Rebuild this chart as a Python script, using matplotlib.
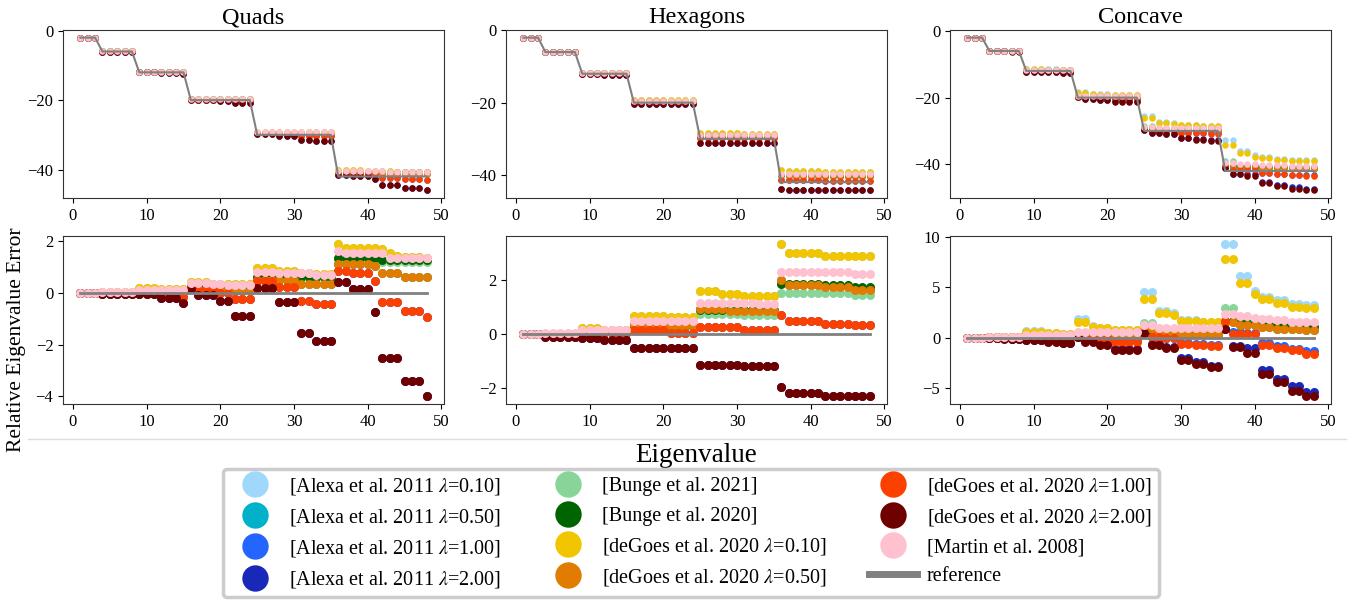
import numpy as np
import matplotlib
matplotlib.use("Agg")
import matplotlib.pyplot as plt
from matplotlib.lines import Line2D

plt.rcParams['font.family'] = ['Liberation Serif', 'DejaVu Serif']
plt.rcParams['mathtext.fontset'] = 'stix'

# eigenvalue index and the exact (reference) spectrum
eigen_index = np.arange(1, 49)
reference = [-2, -2, -2,
             -6, -6, -6, -6, -6,
             -12, -12, -12, -12, -12, -12, -12,
             -20, -20, -20, -20, -20, -20, -20, -20, -20,
             -30, -30, -30, -30, -30, -30, -30, -30, -30, -30, -30,
             -42, -42, -42, -42, -42, -42, -42, -42, -42, -42, -42, -42, -42]

# ---- Quads: error per eigenvalue ----
quads_degoes_010 = [0.00, 0.00, 0.00,
                    0.02, 0.02, 0.02, 0.02, 0.02,
                    0.17, 0.17, 0.17, 0.15, 0.15, 0.15, 0.15,
                    0.42, 0.42, 0.42, 0.36, 0.36, 0.36, 0.33, 0.33, 0.33,
                    0.95, 0.95, 0.95, 0.85, 0.85, 0.85, 0.78, 0.78, 0.72, 0.72, 0.72,
                    1.90, 1.75, 1.75, 1.75, 1.72, 1.72, 1.70, 1.55, 1.42, 1.40, 1.40, 1.38, 1.36]
quads_degoes_050 = [0.00, 0.00, 0.00,
                    0.01, 0.01, 0.01, 0.01, 0.01,
                    0.05, 0.05, 0.05, 0.05, 0.05, 0.05, 0.05,
                    0.15, 0.15, 0.15, 0.10, 0.10, 0.10, 0.08, 0.08, 0.08,
                    0.48, 0.48, 0.48, 0.48, 0.48, 0.48, 0.33, 0.33, 0.33, 0.33, 0.33,
                    1.12, 1.12, 1.12, 1.12, 1.12, 1.05, 0.75, 0.75, 0.75, 0.62, 0.62, 0.62, 0.62]
quads_degoes_100 = [0.00, 0.00, 0.00,
                    0.00, 0.00, 0.00, 0.00, 0.00,
                    0.00, 0.00, 0.00, -0.02, -0.02, -0.02, -0.15,
                    0.20, 0.10, 0.10, 0.10, 0.00, 0.00, -0.22, -0.22, -0.22,
                    0.45, 0.45, 0.45, 0.23, 0.23, 0.23, -0.32, -0.32, -0.42, -0.42, -0.42,
                    0.85, 0.85, 0.75, 0.75, 0.75, 0.45, -0.35, -0.35, -0.35, -0.72, -0.72, -0.72, -0.92]
quads_degoes_200 = [0.00, 0.00, 0.00,
                    -0.03, -0.03, -0.03, -0.03, -0.03,
                    -0.03, -0.03, -0.03, -0.19, -0.19, -0.19, -0.38,
                    0.13, -0.10, -0.10, -0.10, -0.32, -0.32, -0.88, -0.88, -0.88,
                    0.19, 0.19, 0.19, -0.35, -0.35, -0.35, -1.56, -1.56, -1.88, -1.88, -1.88,
                    0.40, 0.40, 0.13, 0.13, 0.13, -0.75, -2.53, -2.53, -2.53, -3.40, -3.40, -3.40, -4.00]
quads_bunge_2021 = [0.00, 0.00, 0.00,
                    0.01, 0.01, 0.01, 0.01, 0.01,
                    0.07, 0.07, 0.07, 0.07, 0.07, 0.07, 0.07,
                    0.22, 0.22, 0.22, 0.22, 0.22, 0.22, 0.22, 0.22, 0.22,
                    0.56, 0.56, 0.56, 0.56, 0.56, 0.56, 0.56, 0.56, 0.56, 0.56, 0.56,
                    1.30, 1.30, 1.30, 1.30, 1.30, 1.30, 1.20, 1.20, 1.20, 1.20, 1.20, 1.20, 1.20]
quads_bunge_2020 = [0.00, 0.00, 0.00,
                    0.01, 0.01, 0.01, 0.01, 0.01,
                    0.08, 0.08, 0.08, 0.08, 0.08, 0.08, 0.08,
                    0.25, 0.25, 0.25, 0.25, 0.25, 0.25, 0.25, 0.25, 0.25,
                    0.62, 0.62, 0.62, 0.62, 0.62, 0.62, 0.62, 0.62, 0.62, 0.62, 0.62,
                    1.36, 1.36, 1.36, 1.36, 1.36, 1.36, 1.25, 1.25, 1.25, 1.25, 1.25, 1.25, 1.25]
quads_martin = [0.00, 0.00, 0.00,
                0.02, 0.02, 0.02, 0.02, 0.02,
                0.12, 0.12, 0.12, 0.12, 0.12, 0.12, 0.12,
                0.38, 0.38, 0.38, 0.33, 0.33, 0.30, 0.30, 0.30, 0.30,
                0.80, 0.80, 0.80, 0.78, 0.78, 0.78, 0.75, 0.75, 0.68, 0.68, 0.68,
                1.60, 1.55, 1.55, 1.55, 1.55, 1.55, 1.55, 1.36, 1.36, 1.36, 1.36, 1.34, 1.34]
# on quads the Alexa operators coincide with deGoes (hidden underneath)
quads_alexa_010 = quads_degoes_010
quads_alexa_050 = quads_degoes_050
quads_alexa_100 = quads_degoes_100
quads_alexa_200 = quads_degoes_200

# ---- Hexagons ----
hex_degoes_010 = [0.00, 0.00, 0.00,
                  0.02, 0.02, 0.02, 0.02, 0.02,
                  0.24, 0.24, 0.24, 0.17, 0.17, 0.17, 0.17,
                  0.68, 0.68, 0.68, 0.68, 0.68, 0.62, 0.62, 0.62, 0.62,
                  1.57, 1.57, 1.57, 1.48, 1.48, 1.48, 1.41, 1.41, 1.41, 1.41, 1.41,
                  3.33, 2.97, 2.97, 2.97, 2.97, 2.97, 2.88, 2.88, 2.88, 2.88, 2.88, 2.88, 2.88]
hex_degoes_050 = [0.00, 0.00, 0.00,
                  0.01, 0.01, 0.01, 0.01, 0.01,
                  0.10, 0.10, 0.10, 0.10, 0.10, 0.10, 0.10,
                  0.32, 0.32, 0.32, 0.32, 0.32, 0.30, 0.30, 0.30, 0.30,
                  0.91, 0.91, 0.91, 0.91, 0.85, 0.85, 0.85, 0.85, 0.85, 0.85, 0.85,
                  2.00, 1.82, 1.82, 1.82, 1.82, 1.82, 1.73, 1.73, 1.73, 1.73, 1.64, 1.64, 1.64]
hex_degoes_100 = [0.00, 0.00, 0.00,
                  0.00, 0.00, 0.00, 0.00, 0.00,
                  0.03, 0.03, 0.03, 0.03, 0.03, 0.03, 0.03,
                  0.14, 0.14, 0.14, 0.14, 0.14, 0.05, 0.05, 0.05, 0.05,
                  0.25, 0.25, 0.25, 0.25, 0.25, 0.25, 0.16, 0.16, 0.16, 0.16, 0.16,
                  0.69, 0.48, 0.48, 0.48, 0.48, 0.48, 0.38, 0.38, 0.38, 0.38, 0.32, 0.32, 0.32]
hex_degoes_200 = [0.00, 0.00, 0.00,
                  -0.10, -0.10, -0.10, -0.10, -0.10,
                  -0.15, -0.15, -0.15, -0.22, -0.22, -0.22, -0.22,
                  -0.50, -0.50, -0.50, -0.50, -0.50, -0.50, -0.50, -0.50, -0.50,
                  -1.12, -1.12, -1.12, -1.12, -1.12, -1.12, -1.19, -1.19, -1.19, -1.19, -1.19,
                  -1.95, -2.16, -2.16, -2.16, -2.16, -2.16, -2.29, -2.29, -2.29, -2.29, -2.29, -2.29, -2.29]
hex_bunge_2021 = [0.00, 0.00, 0.00,
                  0.01, 0.01, 0.01, 0.01, 0.01,
                  0.08, 0.08, 0.08, 0.08, 0.08, 0.08, 0.08,
                  0.26, 0.26, 0.26, 0.26, 0.26, 0.26, 0.26, 0.26, 0.26,
                  0.74, 0.74, 0.74, 0.74, 0.74, 0.74, 0.72, 0.72, 0.72, 0.72, 0.72,
                  1.51, 1.51, 1.51, 1.51, 1.51, 1.51, 1.51, 1.51, 1.51, 1.51, 1.43, 1.43, 1.43]
hex_bunge_2020 = [0.00, 0.00, 0.00,
                  0.01, 0.01, 0.01, 0.01, 0.01,
                  0.10, 0.10, 0.10, 0.10, 0.10, 0.10, 0.10,
                  0.30, 0.30, 0.30, 0.30, 0.30, 0.30, 0.30, 0.30, 0.30,
                  0.87, 0.87, 0.87, 0.87, 0.87, 0.87, 0.87, 0.87, 0.87, 0.87, 0.87,
                  1.85, 1.83, 1.83, 1.83, 1.83, 1.83, 1.80, 1.80, 1.80, 1.80, 1.75, 1.75, 1.75]
hex_martin = [0.00, 0.00, 0.00,
              0.03, 0.03, 0.03, 0.03, 0.03,
              0.17, 0.17, 0.17, 0.17, 0.17, 0.17, 0.17,
              0.50, 0.50, 0.50, 0.50, 0.50, 0.50, 0.50, 0.50, 0.50,
              1.16, 1.16, 1.16, 1.16, 1.16, 1.16, 1.16, 1.16, 1.12, 1.12, 1.12,
              2.30, 2.30, 2.30, 2.30, 2.30, 2.30, 2.30, 2.30, 2.30, 2.30, 2.20, 2.20, 2.20]
hex_alexa_010 = hex_degoes_010
hex_alexa_050 = hex_degoes_050
hex_alexa_100 = hex_degoes_100
hex_alexa_200 = hex_degoes_200

# ---- Concave ----
conc_alexa_010 = [0.00, 0.00, 0.00,
                  0.02, 0.02, 0.02, 0.02, 0.02,
                  0.65, 0.65, 0.65, 0.45, 0.45, 0.35, 0.35,
                  1.83, 1.83, 1.10, 0.95, 0.95, 0.75, 0.75, 0.75, 0.75,
                  4.50, 4.50, 2.60, 2.60, 2.45, 1.75, 1.75, 1.75, 1.55, 1.55, 1.55,
                  9.30, 9.30, 6.10, 6.10, 4.65, 4.05, 4.05, 3.70, 3.70, 3.30, 3.30, 3.20, 3.20]
conc_alexa_100 = [0.00, 0.00, 0.00,
                  0.00, 0.00, 0.00, 0.00, 0.00,
                  0.05, 0.05, 0.05, -0.03, -0.03, -0.03, -0.03,
                  0.05, 0.05, 0.05, 0.05, 0.05, -0.35, -0.35, -0.35, -0.35,
                  0.50, 0.10, 0.10, 0.00, 0.00, -0.50, -0.50, -0.60, -0.60, -0.70, -0.70,
                  1.50, 0.50, 0.50, 0.45, 0.45, -0.55, -0.55, -0.87, -0.87, -1.15, -1.15, -1.33, -1.33]
conc_alexa_200 = [0.00, 0.00, 0.00,
                  -0.04, -0.04, -0.08, -0.15, -0.15,
                  -0.25, -0.25, -0.25, -0.37, -0.37, -0.50, -0.50,
                  0.10, -0.35, -0.35, -0.65, -0.65, -1.15, -1.15, -1.15, -1.15,
                  0.40, -0.65, -0.65, -0.90, -0.90, -2.05, -2.05, -2.45, -2.45, -2.80, -2.80,
                  0.80, -0.80, -0.80, -1.00, -1.00, -3.23, -3.23, -4.13, -4.13, -4.83, -4.83, -5.37, -5.37]
conc_bunge_2021 = [0.00, 0.00, 0.00,
                   0.02, 0.02, 0.02, 0.02, 0.02,
                   0.20, 0.20, 0.20, 0.20, 0.20, 0.20, 0.20,
                   0.45, 0.45, 0.40, 0.40, 0.40, 0.40, 0.40, 0.40, 0.40,
                   1.43, 1.43, 0.85, 0.85, 0.85, 0.85, 0.85, 0.85, 0.85, 0.85, 0.85,
                   2.93, 2.93, 1.50, 1.50, 1.40, 1.20, 1.20, 1.10, 1.10, 1.00, 1.00, 1.00, 1.00]
conc_bunge_2020 = [0.00, 0.00, 0.00,
                   0.01, 0.01, 0.01, 0.01, 0.01,
                   0.15, 0.15, 0.15, 0.15, 0.15, 0.15, 0.15,
                   0.30, 0.30, 0.30, 0.30, 0.30, 0.30, 0.30, 0.30, 0.30,
                   0.60, 0.60, 0.35, 0.35, 0.35, 0.35, 0.35, 0.35, 0.35, 0.35, 0.35,
                   1.60, 1.60, 1.45, 1.45, 1.35, 1.20, 1.20, 1.15, 1.15, 1.07, 1.07, 1.05, 1.05]
conc_degoes_010 = [0.00, 0.00, 0.00,
                   0.03, 0.03, 0.03, 0.03, 0.03,
                   0.57, 0.57, 0.57, 0.40, 0.40, 0.33, 0.33,
                   1.53, 1.53, 1.07, 0.90, 0.90, 0.73, 0.73, 0.73, 0.73,
                   3.77, 3.77, 2.40, 2.40, 2.23, 1.67, 1.67, 1.67, 1.50, 1.50, 1.50,
                   7.80, 7.80, 5.40, 5.40, 4.30, 3.80, 3.80, 3.40, 3.40, 3.07, 3.07, 2.90, 2.90]
conc_degoes_050 = [0.00, 0.00, 0.00,
                   0.01, 0.01, 0.01, 0.01, 0.01,
                   0.10, 0.10, 0.10, 0.10, 0.10, 0.10, 0.10,
                   0.30, 0.30, 0.30, 0.30, 0.30, 0.30, 0.30, 0.30, 0.30,
                   0.80, 0.80, 0.35, 0.35, 0.35, 0.35, 0.35, 0.35, 0.35, 0.35, 0.35,
                   1.50, 1.50, 1.25, 1.25, 1.25, 1.00, 1.00, 0.83, 0.83, 0.80, 0.80, 0.73, 0.73]
conc_degoes_100 = [0.00, 0.00, 0.00,
                   0.00, 0.00, 0.00, 0.00, 0.00,
                   0.05, 0.05, 0.05, -0.05, -0.05, -0.05, -0.05,
                   0.05, 0.05, 0.05, 0.00, 0.00, -0.40, -0.40, -0.40, -0.40,
                   0.50, 0.05, 0.05, -0.05, -0.05, -0.60, -0.60, -0.70, -0.70, -0.80, -0.80,
                   1.60, 0.33, 0.33, 0.33, 0.33, -0.70, -0.70, -1.03, -1.03, -1.27, -1.27, -1.60, -1.60]
conc_degoes_200 = [0.00, 0.00, 0.00,
                   -0.05, -0.05, -0.10, -0.17, -0.17,
                   -0.27, -0.27, -0.27, -0.40, -0.40, -0.53, -0.53,
                   0.10, -0.40, -0.40, -0.73, -0.73, -1.23, -1.23, -1.23, -1.23,
                   0.40, -0.70, -0.70, -1.00, -1.00, -2.20, -2.20, -2.60, -2.60, -2.93, -2.93,
                   0.80, -0.90, -0.90, -1.50, -1.50, -3.60, -3.60, -4.40, -4.40, -5.33, -5.33, -5.83, -5.83]
conc_martin = [0.00, 0.00, 0.00,
               0.02, 0.02, 0.02, 0.02, 0.02,
               0.25, 0.25, 0.25, 0.25, 0.25, 0.25, 0.25,
               0.50, 0.50, 0.50, 0.50, 0.50, 0.50, 0.50, 0.50, 0.50,
               1.23, 1.23, 0.97, 0.97, 0.97, 0.97, 0.97, 0.97, 0.97, 0.97, 0.97,
               2.33, 2.33, 2.10, 2.10, 1.95, 1.85, 1.85, 1.70, 1.70, 1.57, 1.57, 1.57, 1.57]
conc_alexa_050 = conc_degoes_050

method_labels = [r'[Alexa et al. 2011 $\lambda$=0.10]', r'[Alexa et al. 2011 $\lambda$=0.50]',
                 r'[Alexa et al. 2011 $\lambda$=1.00]', r'[Alexa et al. 2011 $\lambda$=2.00]',
                 '[Bunge et al. 2021]', '[Bunge et al. 2020]',
                 r'[deGoes et al. 2020 $\lambda$=0.10]', r'[deGoes et al. 2020 $\lambda$=0.50]',
                 r'[deGoes et al. 2020 $\lambda$=1.00]', r'[deGoes et al. 2020 $\lambda$=2.00]',
                 '[Martin et al. 2008]']
method_colors = ['#9fd8fb', '#00b1c9', '#2565ff', '#1a28b9',
                 '#88d499', '#006400',
                 '#f1c500', '#e17c00', '#fb4000', '#6f0000',
                 '#ffc0cf']

mesh_titles = ['Quads', 'Hexagons', 'Concave']
mesh_errors = [
    [quads_alexa_010, quads_alexa_050, quads_alexa_100, quads_alexa_200, quads_bunge_2021,
     quads_bunge_2020, quads_degoes_010, quads_degoes_050, quads_degoes_100, quads_degoes_200,
     quads_martin],
    [hex_alexa_010, hex_alexa_050, hex_alexa_100, hex_alexa_200, hex_bunge_2021,
     hex_bunge_2020, hex_degoes_010, hex_degoes_050, hex_degoes_100, hex_degoes_200,
     hex_martin],
    [conc_alexa_010, conc_alexa_050, conc_alexa_100, conc_alexa_200, conc_bunge_2021,
     conc_bunge_2020, conc_degoes_010, conc_degoes_050, conc_degoes_100, conc_degoes_200,
     conc_martin],
]


def main() -> None:
    W, H = 1362, 603
    fig = plt.figure(figsize=(W / 100, H / 100), dpi=100)

    lefts = [63, 506, 950]
    width = 381
    ref = np.array(reference, dtype=float)

    for col in range(3):
        ax_top = fig.add_axes([lefts[col] / W, 1 - 198 / H, width / W, 168 / H])
        ax_bot = fig.add_axes([lefts[col] / W, 1 - 404 / H, width / W, 168 / H])
        for err, color in zip(mesh_errors[col], method_colors):
            err = np.array(err, dtype=float)
            ax_top.scatter(eigen_index, ref + err, s=22, color=color, linewidths=0)
            ax_bot.scatter(eigen_index, err, s=42, color=color, linewidths=0)
        ax_top.plot(eigen_index, ref, color='gray', lw=1.5)
        ax_bot.plot(eigen_index, np.zeros_like(ref), color='gray', lw=2)
        ax_top.set_title(mesh_titles[col], fontsize=17.5, pad=5)
        ax_top.set_yticks([0, -20, -40])
        for ax in (ax_top, ax_bot):
            ax.tick_params(labelsize=12)
            ax.set_xticks([0, 10, 20, 30, 40, 50])
            for sp in ax.spines.values():
                sp.set_color('#333333')

    fig.text(17 / W, 1 - 340 / H, 'Relative Eigenvalue Error', rotation=90,
             ha='center', va='center', fontsize=15.5)
    fig.text(696 / W, 1 - 455 / H, 'Eigenvalue', ha='center', va='center', fontsize=19.5)

    # thin separator line under the plots
    fig.add_artist(Line2D([28 / W, 1346 / W], [1 - 439 / H, 1 - 439 / H],
                          color='#dddddd', lw=1))

    handles = [Line2D([], [], marker='o', linestyle='none', markersize=19,
                      markeredgewidth=0, color=c) for c in method_colors]
    handles.append(Line2D([], [], color='gray', lw=5))
    labels = method_labels + ['reference']
    leg = fig.legend(handles, labels, loc='center', bbox_to_anchor=(691 / W, 1 - 533 / H),
                     ncol=3, fontsize=14.5, handlelength=2.4, handletextpad=0.5,
                     columnspacing=2.1, labelspacing=0.5, borderpad=0.35,
                     fancybox=True, framealpha=1)
    leg.get_frame().set_edgecolor('#cccccc')
    leg.get_frame().set_linewidth(2.5)

    fig.savefig('out.png', dpi=100)


if __name__ == '__main__':
    main()
